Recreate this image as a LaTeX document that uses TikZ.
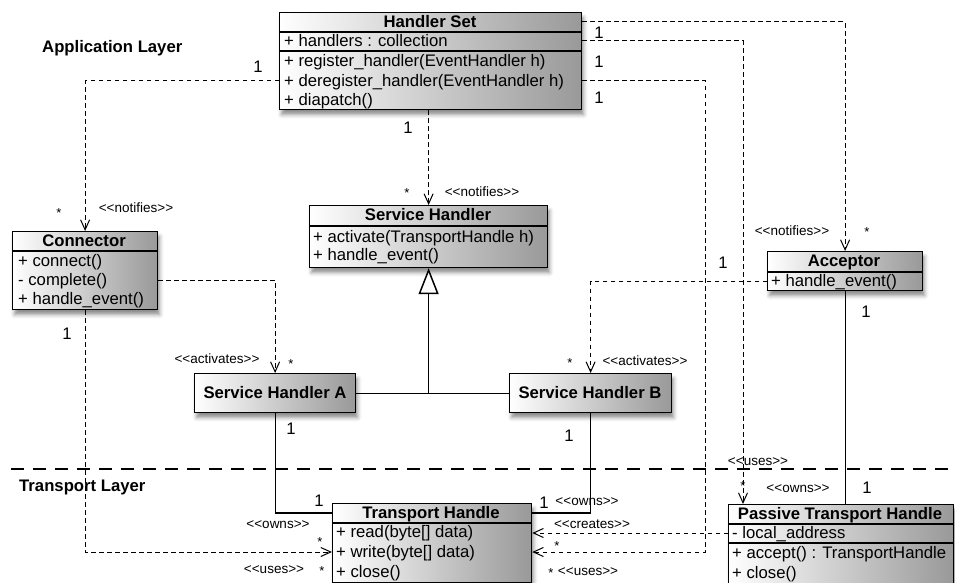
\documentclass[tikz,border=0pt]{standalone}
\usepackage{fontspec}
\setmainfont{Liberation Sans}[Ligatures=TeXOff]
\usetikzlibrary{arrows.meta,calc,shadows.blur}

\tikzset{
  classbox/.style={draw, line width=1.2pt, inner sep=0pt, anchor=north west,
    left color=white, right color=black!40,
    blur shadow={shadow xshift=2pt, shadow yshift=-5pt, shadow blur radius=4pt, shadow opacity=45}},
  ctitle/.style={font=\fontsize{16.7}{19}\selectfont\bfseries, inner sep=0pt, text height=12pt, text depth=1pt},
  member/.style={font=\fontsize{16.7}{19}\selectfont, inner sep=0pt, anchor=west, text height=12pt, text depth=1pt},
  sepline/.style={line width=1.2pt},
  mult/.style={font=\fontsize{16.7}{19}\selectfont, inner sep=0pt, text height=12pt, text depth=0pt},
  multstar/.style={font=\fontsize{13}{15}\selectfont, inner sep=0pt, yshift=-3pt},
  stereo/.style={font=\fontsize{13.5}{15}\selectfont, inner sep=0pt, text height=10pt, text depth=0pt},
  layername/.style={font=\fontsize{16.7}{19}\selectfont\bfseries, inner sep=0pt, anchor=west, text height=12pt, text depth=0pt},
  dep/.style={line width=1pt, dash pattern=on 4.5pt off 3.5pt, -{Straight Barb[length=10pt,width=9pt]}},
  assoc/.style={line width=1.2pt},
  inherit/.style={line width=1.5pt, -{Triangle[open, fill=white, length=26pt, width=20pt]}},
  layerline/.style={line width=2.8pt, dash pattern=on 13pt off 9pt}
}

\begin{document}
\begin{tikzpicture}[x=1pt, y=-1pt]
\useasboundingbox (0,0) rectangle (955,583);

% layer separator and layer names
\coordinate (sepL) at (11,469);
\coordinate (sepR) at (952,469);
\draw[layerline] (sepL) -- (sepR);
\node[layername] (appl) at (42,47) {Application Layer};
\node[layername] (trl) at (19,485) {Transport Layer};

% ---- Handler Set ----
\node[classbox, minimum width=302pt, minimum height=97pt] (hs) at (279,12) {};
\draw[sepline] ([yshift=-20pt]hs.north west) -- ([yshift=-20pt]hs.north east);
\draw[sepline] ([yshift=-39pt]hs.north west) -- ([yshift=-39pt]hs.north east);
\node[ctitle] (hst) at (430,22) {Handler Set};
\node[member] (hsm1) at (284,41) {+ handlers : collection};
\node[member] (hsm2) at (284,61) {+ register\_handler(EventHandler h)};
\node[member] (hsm3) at (284,81) {+ deregister\_handler(EventHandler h)};
\node[member] (hsm4) at (284,100) {+ diapatch()};

% ---- Connector ----
\node[classbox, minimum width=145pt, minimum height=78pt] (con) at (12,231) {};
\draw[sepline] ([yshift=-20pt]con.north west) -- ([yshift=-20pt]con.north east);
\node[ctitle] (cont) at (84,241) {Connector};
\node[member] (conm1) at (18,261) {+ connect()};
\node[member] (conm2) at (18,280) {- complete()};
\node[member] (conm3) at (18,299) {+ handle\_event()};

% ---- Service Handler ----
\node[classbox, minimum width=238pt, minimum height=62pt] (sh) at (309,205) {};
\draw[sepline] ([yshift=-21pt]sh.north west) -- ([yshift=-21pt]sh.north east);
\node[ctitle] (sht) at (428,215) {Service Handler};
\node[member] (shm1) at (313,237) {+ activate(TransportHandle h)};
\node[member] (shm2) at (313,255) {+ handle\_event()};

% ---- Acceptor ----
\node[classbox, minimum width=155pt, minimum height=39pt] (acc) at (767,251) {};
\draw[sepline] ([yshift=-21pt]acc.north west) -- ([yshift=-21pt]acc.north east);
\node[ctitle] (acct) at (844,261) {Acceptor};
\node[member] (accm1) at (771,281) {+ handle\_event()};

% ---- Service Handler A / B ----
\node[classbox, minimum width=161pt, minimum height=39pt] (sha) at (194,373) {};
\node[ctitle] (shat) at (275,393) {Service Handler A};
\node[classbox, minimum width=162pt, minimum height=39pt] (shb) at (509,373) {};
\node[ctitle] (shbt) at (590,393) {Service Handler B};

% ---- Transport Handle ----
\node[classbox, minimum width=199pt, minimum height=79pt] (th) at (332,503) {};
\draw[sepline] ([yshift=-20pt]th.north west) -- ([yshift=-20pt]th.north east);
\node[ctitle] (tht) at (431,513) {Transport Handle};
\node[member] (thm1) at (336,532) {+ read(byte[] data)};
\node[member] (thm2) at (336,552) {+ write(byte[] data)};
\node[member] (thm3) at (336,572) {+ close()};

% ---- Passive Transport Handle ----
\node[classbox, minimum width=225pt, minimum height=80pt] (pth) at (728,504) {};
\draw[sepline] ([yshift=-20pt]pth.north west) -- ([yshift=-20pt]pth.north east);
\draw[sepline] ([yshift=-39pt]pth.north west) -- ([yshift=-39pt]pth.north east);
\node[ctitle] (ptht) at (840,514) {Passive Transport Handle};
\node[member] (pthm1) at (732,533) {- local\_address};
\node[member] (pthm2) at (732,553) {+ accept() : TransportHandle};
\node[member] (pthm3) at (732,573) {+ close()};

% ---- dependencies ----
\draw[dep] (hs.west |- hsm3) -| (con.north);
\draw[dep] (hs.south -| sh.north) -- (sh.north);
\draw[dep] (hs.east |- hst) -| (acc.north);
\draw[dep] (hs.east |- hsm1) -| ([xshift=15pt]pth.north west);
\draw[dep] (hs.east |- hsm3) -| ($(th.east |- thm2)+(173,0)$) -- (th.east |- thm2);
\draw[dep] (acc.west |- accm1) -| (shb.north);
\draw[dep] (pth.west |- pthm1) -- (th.east |- pthm1);
\draw[dep] (con.east |- conm2) -| (sha.north);
\draw[dep] (con.south) |- (th.west |- thm2);

% ---- associations ----
\draw[assoc] (acc.south) -- (acc.south |- pth.north);
\draw[assoc] (sha.south) |- (th.west |- tht);
\draw[assoc] (shb.south) |- (th.east |- tht);

% ---- generalisation ----
\draw[inherit] (sh.south |- sha.east) -- (sh.south);
\draw[assoc] (sha.east) -- (shb.west);

% ---- multiplicities and stereotypes ----
\node[mult] (m1) at (599,33) {1};
\node[mult] (m2) at (599,62) {1};
\node[mult] (m3) at (599,98) {1};
\node[mult] (m4) at (258,67) {1};
\node[mult] (m5) at (408,128) {1};
\node[multstar] (s1) at (59,210) {*};
\node[stereo] (n1) at (136,207) {<<notifies>>};
\node[multstar] (s2) at (407,190) {*};
\node[stereo] (n2) at (482,191) {<<notifies>>};
\node[stereo] (n3) at (792,230) {<<notifies>>};
\node[multstar] (s3) at (867,229) {*};
\node[mult] (m6) at (723,262) {1};
\node[mult] (m7) at (866,311) {1};
\node[multstar] (s4) at (570,360) {*};
\node[stereo] (a1) at (645,360) {<<activates>>};
\node[stereo] (a2) at (217,358) {<<activates>>};
\node[multstar] (s5) at (291,361) {*};
\node[mult] (m8) at (67,333) {1};
\node[mult] (m9) at (291,428) {1};
\node[mult] (m10) at (319,500) {1};
\node[stereo] (o1) at (278,523) {<<owns>>};
\node[multstar] (s6) at (320,539) {*};
\node[stereo] (u1) at (274,568) {<<uses>>};
\node[multstar] (s7) at (322,568) {*};
\node[mult] (m11) at (569,435) {1};
\node[mult] (m12) at (544,502) {1};
\node[stereo] (o2) at (587,500) {<<owns>>};
\node[stereo] (c1) at (592,523) {<<creates>>};
\node[multstar] (s8) at (557,543) {*};
\node[multstar] (s9) at (551,570) {*};
\node[stereo] (u2) at (588,570) {<<uses>>};
\node[stereo] (u3) at (758,460) {<<uses>>};
\node[multstar] (s10) at (743,483) {*};
\node[stereo] (o3) at (798,487) {<<owns>>};
\node[mult] (m13) at (867,487) {1};
\end{tikzpicture}
\end{document}
